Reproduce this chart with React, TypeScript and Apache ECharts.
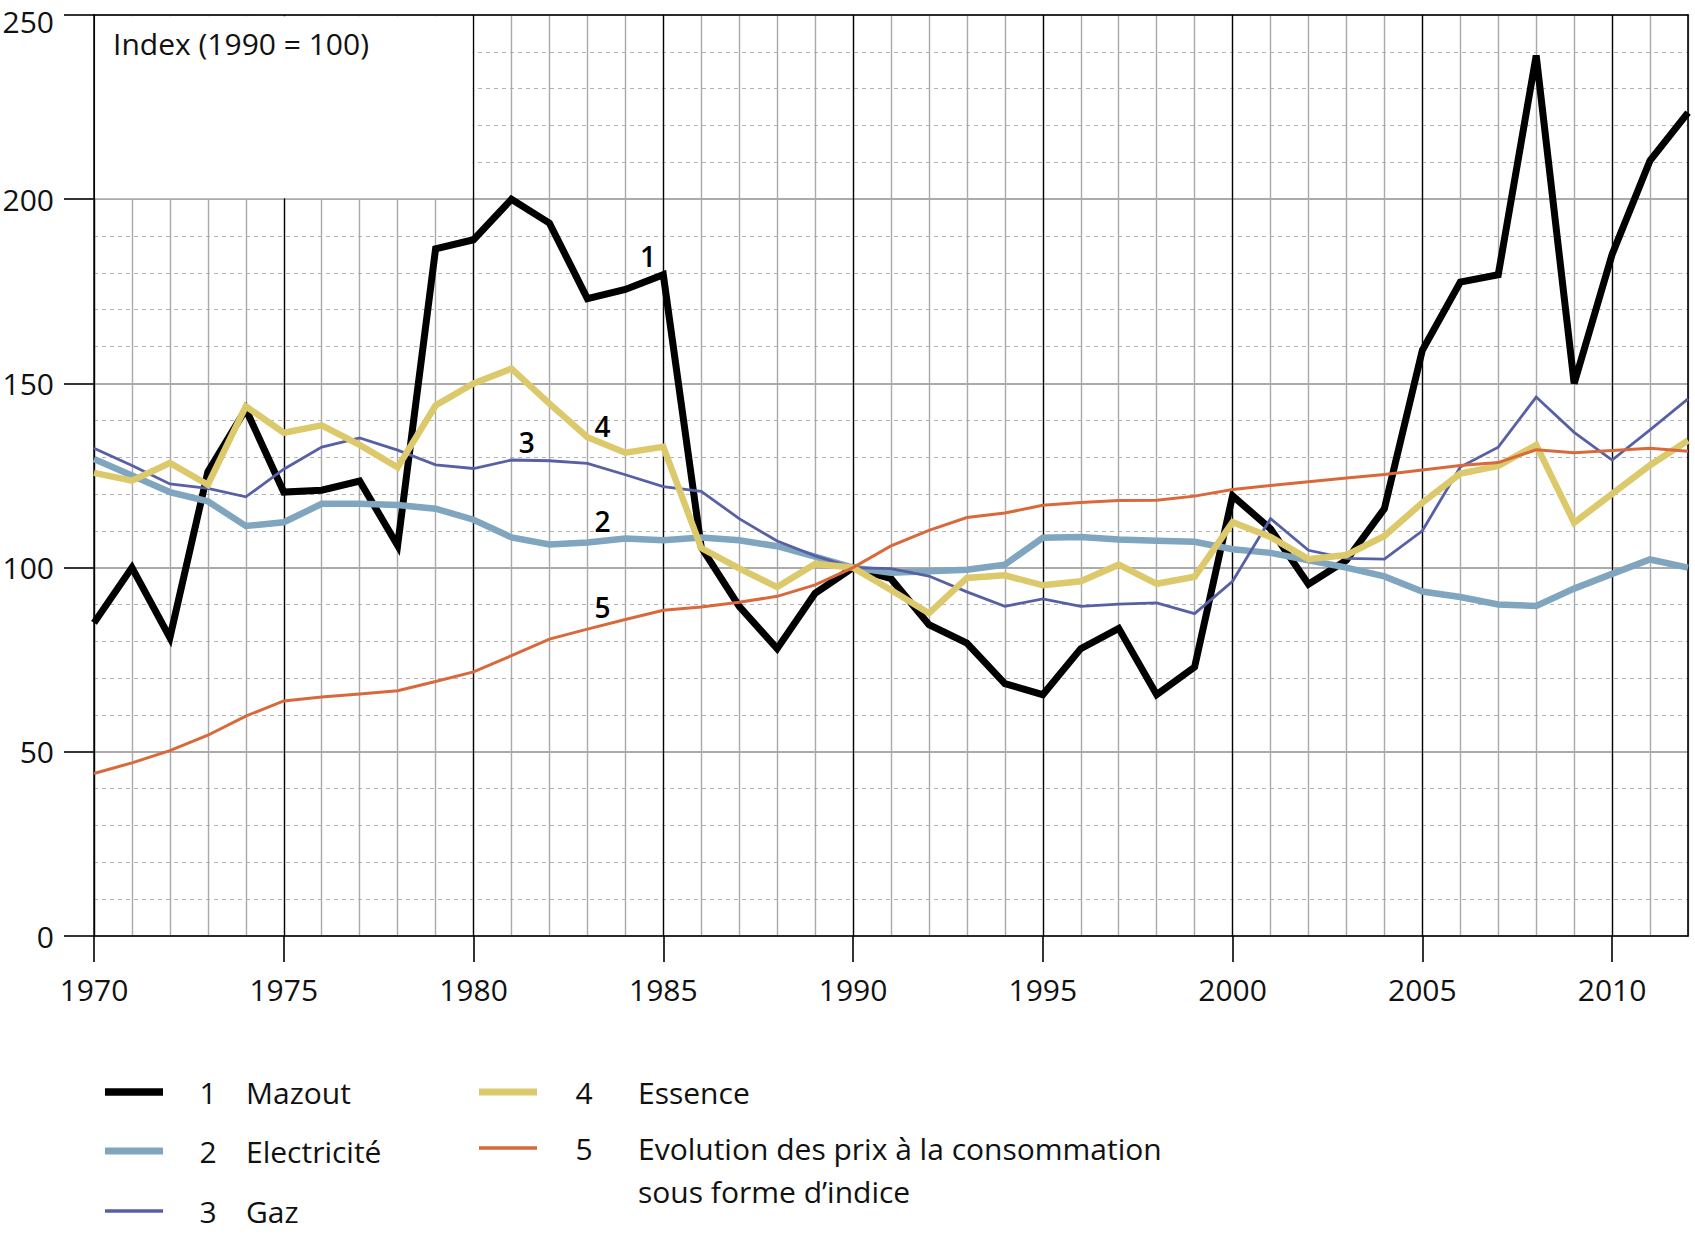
import React, { useEffect, useRef } from "react";
import * as echarts from "echarts";

const years = [
  1970, 1971, 1972, 1973, 1974, 1975, 1976, 1977, 1978, 1979,
  1980, 1981, 1982, 1983, 1984, 1985, 1986, 1987, 1988, 1989,
  1990, 1991, 1992, 1993, 1994, 1995, 1996, 1997, 1998, 1999,
  2000, 2001, 2002, 2003, 2004, 2005, 2006, 2007, 2008, 2009,
  2010, 2011, 2012,
];

const mazout = [
  85, 100, 81, 126, 143, 120.5, 121, 123.5, 106, 186.5,
  189, 200, 193.5, 173, 175.5, 179.5, 105.5, 89.5, 78, 93,
  100, 97, 84.5, 79.5, 68.5, 65.5, 78, 83.5, 65.5, 73,
  119.5, 110.5, 95.5, 102, 116, 159, 177.5, 179.5, 239, 150,
  185, 210.5, 223.5,
];

const electricite = [
  129.5, 125, 120.5, 118, 111.3, 112.3, 117.3, 117.3, 117, 116,
  113, 108.2, 106.3, 106.8, 107.9, 107.4, 108.2, 107.4, 105.8, 103,
  100, 98.6, 99, 99.4, 100.8, 108.1, 108.3, 107.6, 107.3, 107,
  105, 104, 102, 100, 97.6, 93.5, 92, 90, 89.6, 94.3,
  98.3, 102.2, 100,
];

const gaz = [
  132.4, 127.7, 122.7, 121.5, 119.2, 126.7, 132.7, 135.2, 131.9, 127.9,
  126.9, 129.2, 129, 128.3, 125.2, 122, 120.7, 113.3, 107.2, 103.2,
  100, 99.7, 97.7, 93.4, 89.5, 91.5, 89.5, 90.1, 90.4, 87.5,
  96.3, 113.3, 104.7, 102.5, 102.3, 110, 127.3, 132.7, 146.3, 136.7,
  129.2, 137.4, 145.8,
];

const essence = [
  125.7, 123.6, 128.4, 122.5, 143.8, 136.6, 138.6, 133.3, 127.2, 144,
  150, 154, 144.5, 135.4, 131.2, 132.8, 105.3, 99.8, 94.7, 101,
  100, 93.9, 87.6, 97.2, 97.9, 95.2, 96.3, 100.8, 95.6, 97.5,
  112.3, 108.3, 102.3, 103.4, 108.6, 117.6, 125.5, 127.6, 133.3, 112.2,
  120, 127.8, 134.5,
];

const ipc = [
  44.1, 47, 50.3, 54.5, 59.7, 63.8, 64.9, 65.7, 66.6, 69.1,
  71.7, 76.1, 80.6, 83.3, 85.9, 88.4, 89.3, 90.6, 92.2, 95.3,
  100, 105.9, 110.1, 113.6, 114.8, 116.9, 117.7, 118.2, 118.3, 119.4,
  121.2, 122.3, 123.3, 124.3, 125.3, 126.5, 127.7, 128.5, 132, 131.2,
  131.8, 132.4, 131.6,
];

const xLabelYears = [1970, 1975, 1980, 1985, 1990, 1995, 2000, 2005, 2010];
const yMax = 250;

const seriesNames = ["Mazout", "Electricité", "Gaz", "Essence", "Evolution des prix à la consommation sous forme d’indice"];
const seriesNumbers = ["1", "2", "3", "4", "5"];
const seriesColors = ["#000000", "#7fa5bf", "#5760a5", "#dcc96c", "#d9693a"];
const seriesWidths = [7, 6.5, 2.8, 6.5, 3];
const seriesValues = [mazout, electricite, gaz, essence, ipc];
// draw order: bottom to top
const drawOrder = [0, 1, 2, 3, 4];

// positions (in data units) of the numbered in-chart labels
const lineLabelPos: [number, number][] = [
  [1984.6, 184.6],
  [1983.4, 112.7],
  [1981.4, 134.1],
  [1983.4, 138.4],
  [1983.4, 89.4],
];

const FONT = '"Open Sans", "Noto Sans", "DejaVu Sans", sans-serif';
const Y_LABEL_MARGIN = 40;

export default function App() {
  const ref = useRef<HTMLDivElement>(null);

  useEffect(() => {
    const el = ref.current!;
    const chart = echarts.init(el, null, { renderer: "svg", width: 1695, height: 1238 });

    const series = drawOrder.map((idx) => ({
      type: "line",
      name: seriesNames[idx],
      xAxisIndex: 0,
      yAxisIndex: 0,
      data: years.map((y, i) => [y, seriesValues[idx][i]]),
      showSymbol: false,
      symbol: "none",
      silent: true,
      z: 2 + idx * 0.1,
      lineStyle: {
        color: seriesColors[idx],
        width: seriesWidths[idx],
        join: "miter",
        miterLimit: 10,
        cap: "butt",
      },
      emphasis: { disabled: true },
    }));

    chart.setOption({
      animation: false,
      backgroundColor: "#ffffff",
      grid: {
        left: 94,
        right: 7,
        top: 15,
        bottom: 302,
        containLabel: false,
        outerBoundsMode: "none",
      },
      xAxis: [
        {
          type: "value",
          position: "bottom",
          min: 1970,
          max: 2012,
          interval: 5,
          z: 1,
          axisLine: { show: true, onZero: false, lineStyle: { color: "#000", width: 1.6 } },
          axisTick: {
            show: true,
            length: 26,
            customValues: xLabelYears,
            lineStyle: { color: "#000", width: 1.6 },
          },
          axisLabel: {
            customValues: xLabelYears,
            margin: 38,
            fontSize: 30,
            fontFamily: FONT,
            color: "#111",
            formatter: (v: number) => String(v),
          },
          splitLine: { show: true, lineStyle: { color: "#000", width: 1.3 } },
        },
        {
          type: "value",
          position: "top",
          min: 1970,
          max: 2012,
          interval: 1,
          z: 0.8,
          axisLine: { show: true, onZero: false, lineStyle: { color: "#000", width: 1.6 } },
          axisTick: { show: false },
          axisLabel: { show: false },
          splitLine: { show: true, lineStyle: { color: "#a9a9a9", width: 1.4 } },
        },
      ],
      yAxis: [
        {
          type: "value",
          min: 0,
          max: yMax,
          interval: 50,
          z: 0,
          axisLine: { show: true, onZero: false, lineStyle: { color: "#000", width: 1.6 } },
          axisTick: { show: true, length: 30, lineStyle: { color: "#000", width: 1.6 } },
          axisLabel: {
            margin: Y_LABEL_MARGIN,
            fontSize: 30,
            fontFamily: FONT,
            color: "#111",
            // the top label is drawn below as a graphic text so it is not clipped by the page edge
            formatter: (v: number) => (v === yMax ? "" : String(v)),
          },
          splitLine: { show: true, lineStyle: { color: "#ababab", width: 1.8 } },
          minorTick: { show: false, splitNumber: 5 },
          minorSplitLine: { show: true, lineStyle: { color: "#b5b5b5", width: 1, type: [4, 4] } },
        },
        {
          type: "value",
          position: "right",
          min: 0,
          max: yMax,
          interval: 50,
          z: 1,
          axisLine: { show: true, onZero: false, lineStyle: { color: "#000", width: 1.6 } },
          axisTick: { show: false },
          axisLabel: { show: false },
          splitLine: { show: false },
        },
      ],
      series,
    });

    const p = (x: number, y: number) =>
      chart.convertToPixel({ xAxisIndex: 0, yAxisIndex: 0 }, [x, y]) as number[];

    const tl = p(1970, yMax);
    const br = p(1980, 200);

    const graphic: any[] = [];
    // top y label
    graphic.push({
      type: "text",
      silent: true,
      x: tl[0] - Y_LABEL_MARGIN,
      y: tl[1] - 9,
      style: {
        text: String(yMax),
        font: `30px ${FONT}`,
        fill: "#111",
        align: "right",
        verticalAlign: "top",
      },
    });
    // blank box for the index label
    graphic.push({
      type: "rect",
      z: 1.5,
      silent: true,
      shape: { x: tl[0] + 1.2, y: tl[1] + 1.2, width: br[0] - tl[0] - 2.4, height: br[1] - tl[1] - 2.2 },
      style: { fill: "#ffffff" },
    });
    graphic.push({
      type: "text",
      z: 3,
      silent: true,
      x: tl[0] + 19,
      y: tl[1] + 28,
      style: {
        text: "Index (1990 = 100)",
        font: `30px ${FONT}`,
        fill: "#111",
        verticalAlign: "middle",
        align: "left",
      },
    });

    // numbered labels on the lines
    lineLabelPos.forEach((pos, i) => {
      const q = p(pos[0], pos[1]);
      graphic.push({
        type: "text",
        z: 3,
        silent: true,
        x: q[0],
        y: q[1],
        style: {
          text: seriesNumbers[i],
          font: `600 28px ${FONT}`,
          fill: "#000",
          align: "center",
          verticalAlign: "middle",
        },
      });
    });

    // legend
    const legendRows = [
      { idx: 0, lx: 105, nx: 208, y: 1092 },
      { idx: 1, lx: 105, nx: 208, y: 1151 },
      { idx: 2, lx: 105, nx: 208, y: 1211 },
      { idx: 3, lx: 479, nx: 584, y: 1092 },
      { idx: 4, lx: 479, nx: 584, y: 1148 },
    ];
    legendRows.forEach((r) => {
      graphic.push({
        type: "line",
        silent: true,
        shape: { x1: r.lx, y1: r.y, x2: r.lx + 58, y2: r.y },
        style: { stroke: seriesColors[r.idx], lineWidth: seriesWidths[r.idx] + 0.5 },
      });
      graphic.push({
        type: "text",
        silent: true,
        x: r.nx,
        y: r.y,
        style: {
          text: seriesNumbers[r.idx],
          font: `30px ${FONT}`,
          fill: "#111",
          align: "center",
          verticalAlign: "middle",
        },
      });
    });
    const legendTexts = [
      { t: "Mazout", x: 246, y: 1092 },
      { t: "Electricité", x: 246, y: 1151 },
      { t: "Gaz", x: 246, y: 1211 },
      { t: "Essence", x: 638, y: 1092 },
      { t: "Evolution des prix à la consommation", x: 638, y: 1148 },
      { t: "sous forme d’indice", x: 638, y: 1191 },
    ];
    legendTexts.forEach((lt) => {
      graphic.push({
        type: "text",
        silent: true,
        x: lt.x,
        y: lt.y,
        style: {
          text: lt.t,
          font: `30px ${FONT}`,
          fill: "#111",
          align: "left",
          verticalAlign: "middle",
        },
      });
    });

    chart.setOption({ graphic });

    return () => {
      chart.dispose();
    };
  }, []);

  return (
    <div
      ref={ref}
      style={{ position: "fixed", left: 0, top: 0, width: 1695, height: 1238, background: "#fff" }}
    />
  );
}
